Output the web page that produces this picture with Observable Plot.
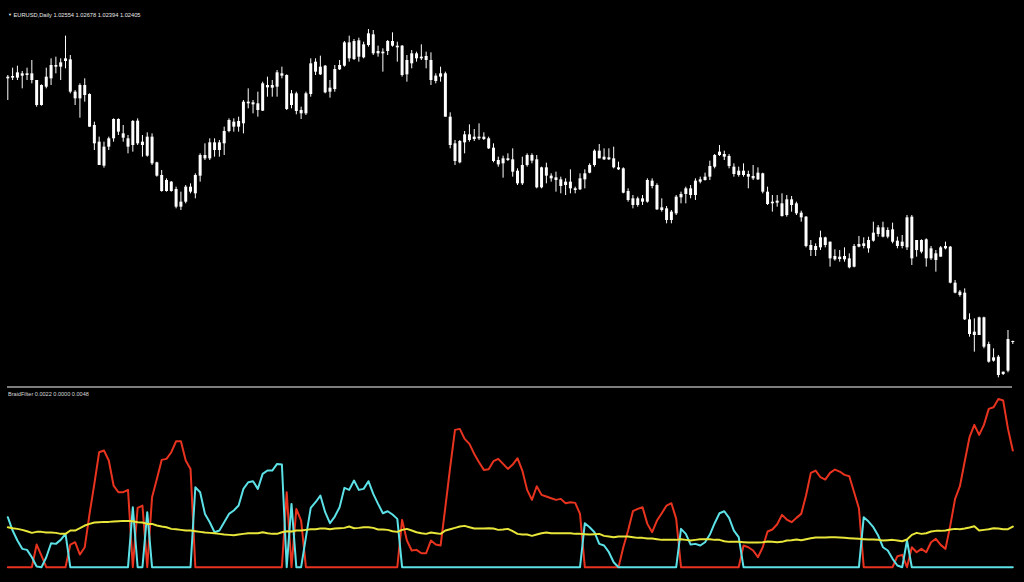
<!DOCTYPE html>
<html><head><meta charset="utf-8">
<script src="https://cdn.jsdelivr.net/npm/d3@7"></script>
<script src="https://cdn.jsdelivr.net/npm/@observablehq/plot@0.6"></script>
<style>
html,body{margin:0;padding:0;background:#000;width:1024px;height:582px;overflow:hidden;}
#wrap{position:relative;width:1024px;height:582px;background:#000;}
#price{position:absolute;left:0;top:0;}
#ind{position:absolute;left:0;top:388px;}
#sep{position:absolute;left:7px;top:386px;width:1005px;height:2px;background:#7d7d7d;}
.lbl{position:absolute;color:#e8e8e8;font-family:"Liberation Sans",Arial,sans-serif;white-space:nowrap;transform:scale(0.5);transform-origin:0 0;line-height:1;}
</style></head><body>
<div id="wrap">
  <div id="price"></div>
  <div id="sep"></div>
  <div id="ind"></div>
  <div class="lbl" style="left:8px;top:12px;font-size:11.4px"><span style="font-size:8px;position:relative;top:-1px">▼</span> EURUSD,Daily 1.02554 1.02678 1.02394 1.02405</div>
  <div class="lbl" style="left:8px;top:391px;font-size:11.1px;color:#d8d8d8">BraidFilter 0.0022 0.0000 0.0048</div>
</div>
<script>
// EURUSD daily candles, prices in pips (1 pip = 0.0001)
const open = [
11031,11033,11033,11046,11041,11046,11026,10951,11006,11031,
11071,11066,11083,11088,10991,10971,11011,10984,10891,10841,
10769,10826,10851,10909,10866,10851,10831,10904,10841,10799,
10856,10779,10741,10726,10693,10699,10646,10661,10706,10686,
10739,10801,10791,10839,10816,10836,10873,10901,10886,10896,
10961,10953,10956,10934,11011,11003,11006,11046,11041,10951,
10986,10936,10926,10984,11081,11043,11069,10991,10999,11058,
11069,11139,11089,11145,11094,11131,11163,11106,11111,11113,
11143,11129,11129,11043,11076,11106,11091,11098,11086,11023,
11036,11046,10916,10836,10779,10839,10863,10849,10856,10856,
10851,10823,10786,10776,10791,10788,10754,10716,10771,10801,
10788,10704,10764,10739,10734,10728,10711,10721,10701,10698,
10728,10748,10771,10814,10788,10794,10791,10764,10761,10693,
10671,10651,10671,10661,10724,10711,10644,10641,10606,10626,
10674,10684,10701,10681,10721,10726,10736,10766,10801,10804,
10798,10766,10741,10754,10744,10731,10728,10746,10691,10656,
10658,10656,10621,10668,10656,10628,10616,10531,10516,10524,
10554,10541,10488,10496,10488,10491,10466,10526,10536,10521,
10544,10564,10584,10556,10578,10544,10528,10524,10616,10516,
10546,10548,10491,10506,10496,10521,10526,10418,10391,10388,
10308,10261,10261,10314,10234,10184,10196,10144,10154,10243];
const high = [
11041,11063,11069,11053,11063,11086,11026,11013,11063,11091,
11096,11091,11159,11101,10996,11016,11031,10986,10901,10856,
10841,10856,10911,10911,10891,10861,10906,10911,10861,10869,
10866,10781,10756,10731,10723,10706,10691,10711,10716,10746,
10806,10836,10851,10851,10846,10886,10911,10911,10916,10966,
11001,10966,10991,11021,11036,11026,11056,11066,11043,10996,
10991,10946,10991,11091,11091,11099,11071,11026,11071,11086,
11143,11159,11149,11153,11141,11179,11176,11129,11121,11146,
11169,11141,11131,11101,11116,11111,11133,11111,11109,11046,
11066,11051,10929,10846,10846,10873,10893,10879,10896,10869,
10856,10836,10796,10799,10806,10821,10761,10796,10806,10806,
10801,10766,10778,10746,10751,10736,10731,10758,10706,10746,
10758,10776,10818,10834,10821,10821,10826,10781,10764,10701,
10681,10676,10681,10731,10731,10716,10671,10648,10636,10681,
10691,10706,10711,10731,10736,10748,10784,10804,10831,10814,
10804,10776,10766,10776,10754,10771,10764,10748,10706,10681,
10681,10686,10681,10678,10661,10634,10618,10546,10536,10574,
10556,10541,10518,10516,10524,10506,10534,10558,10554,10556,
10601,10591,10601,10584,10598,10556,10561,10621,10621,10546,
10548,10551,10528,10516,10528,10541,10528,10426,10396,10401,
10326,10311,10316,10316,10241,10221,10201,10151,10276,10244];
const low = [
10966,11026,11026,11001,11026,11016,10946,10949,11001,11011,
11046,11026,11061,10986,10951,10913,10961,10886,10816,10771,
10763,10816,10841,10861,10841,10806,10811,10831,10796,10796,
10771,10736,10691,10691,10691,10641,10636,10656,10686,10671,
10721,10786,10786,10796,10796,10801,10869,10871,10871,10866,
10941,10926,10916,10933,10976,10976,10976,11031,10936,10941,
10923,10909,10921,10976,11041,11041,10986,10973,10991,11056,
11066,11081,11086,11081,11091,11126,11101,11096,11051,11101,
11126,11081,11036,11021,11061,11081,11086,11061,11011,11016,
11021,10916,10821,10771,10776,10806,10841,10843,10846,10846,
10819,10779,10766,10733,10783,10736,10711,10711,10766,10776,
10701,10701,10716,10721,10691,10686,10681,10686,10686,10696,
10701,10746,10766,10791,10786,10786,10761,10756,10686,10661,
10641,10646,10651,10658,10701,10636,10631,10596,10596,10621,
10656,10656,10671,10666,10716,10724,10726,10761,10798,10786,
10761,10736,10736,10736,10701,10726,10726,10686,10651,10631,
10646,10616,10616,10631,10621,10601,10524,10498,10498,10516,
10524,10466,10484,10481,10481,10461,10464,10524,10521,10508,
10541,10556,10554,10551,10536,10521,10521,10516,10471,10496,
10506,10466,10486,10451,10496,10518,10416,10386,10376,10306,
10256,10211,10261,10221,10178,10181,10134,10141,10149,10234];
const close = [
11036,11038,11049,11039,11046,11026,10951,11011,11036,11071,
11066,11079,11091,10991,10971,11011,10981,10886,10836,10771,
10826,10851,10909,10871,10853,10826,10903,10836,10831,10856,
10776,10739,10693,10693,10721,10646,10661,10706,10691,10741,
10801,10791,10839,10816,10839,10873,10906,10886,10903,10961,
10956,10959,10936,11016,11004,11011,11049,11039,10939,10986,
10933,10926,10986,11076,11051,11066,10989,11003,11059,11071,
11139,11091,11143,11096,11133,11166,11106,11113,11106,11143,
11129,11124,11041,11086,11106,11091,11096,11086,11026,11039,
11046,10916,10831,10783,10843,10863,10846,10856,10851,10849,
10821,10783,10773,10791,10786,10751,10716,10771,10801,10784,
10704,10764,10739,10731,10726,10708,10721,10701,10696,10731,
10746,10771,10814,10791,10796,10788,10764,10758,10688,10666,
10651,10671,10661,10726,10708,10638,10636,10606,10631,10676,
10684,10701,10681,10724,10728,10736,10768,10801,10811,10796,
10768,10744,10754,10741,10736,10738,10748,10691,10654,10661,
10664,10618,10668,10651,10626,10614,10528,10516,10528,10554,
10531,10491,10498,10489,10498,10464,10528,10534,10528,10546,
10568,10584,10556,10576,10541,10528,10541,10614,10491,10546,
10511,10491,10521,10486,10524,10528,10418,10388,10381,10308,
10264,10271,10314,10226,10181,10194,10141,10151,10249,10240];

// BraidFilter buffers, in points (1 point = 0.00001)
const redLine = [
0,0,0,0,0,0,68,35,0,0,
0,0,0,68,75,38,60,160,250,345,
350,320,245,225,225,232,0,178,185,0,
210,265,322,325,345,378,378,320,295,0,
0,0,0,0,0,0,0,0,0,0,
0,0,0,0,0,0,0,0,225,0,
175,140,0,0,0,0,0,0,0,0,
0,0,0,0,0,0,0,0,0,0,
0,0,142,80,50,52,42,42,80,68,
65,181,300,412,415,385,370,340,315,292,
294,318,325,310,295,308,327,290,232,202,
243,217,212,207,202,205,192,195,193,160,
0,0,0,0,0,0,0,0,60,110,
168,175,180,130,105,140,162,185,192,145,
0,0,0,0,0,0,0,0,0,0,
0,0,0,65,60,50,30,60,107,113,
129,157,143,135,148,160,215,283,290,270,
263,283,293,287,277,273,225,177,0,0,
0,0,0,0,0,33,37,0,60,45,
55,45,75,85,67,55,125,205,243,317,
390,427,397,427,475,480,505,500,415,350];
const cyanLine = [
150,110,80,55,52,30,2,0,30,72,
70,82,100,0,0,0,0,0,0,0,
0,0,0,0,0,0,180,0,0,165,
0,0,0,0,0,0,0,0,0,240,
225,160,135,105,110,135,160,170,185,235,
255,258,235,280,290,290,310,308,0,190,
0,0,90,178,195,215,165,132,152,180,
238,232,260,232,235,258,220,190,162,168,
158,145,0,0,0,0,0,0,0,0,
0,0,0,0,0,0,0,0,0,0,
0,0,0,0,0,0,0,0,0,0,
0,0,0,0,0,0,0,0,0,0,
132,120,105,70,65,45,15,0,0,0,
0,0,0,0,0,0,0,0,0,0,
115,100,68,70,65,75,98,132,162,168,
148,110,90,0,0,0,0,0,0,0,
0,0,0,0,0,0,0,0,0,0,
0,0,0,0,0,0,0,0,150,137,
120,95,60,50,25,5,0,80,0,0,
0,0,0,0,0,0,0,0,0,0,
0,0,0,0,0,0,0,0,0,0];
const yellowLine = [
120,117,115,112,108,103,106,106,104,104,
103,100,100,110,110,117,125,130,134,135,
136,136,137,138,139,139,138,135,134,130,
130,125,122,120,115,114,112,110,110,108,
106,104,103,102,100,98,97,96,98,100,
102,102,102,105,102,100,100,105,108,107,
110,110,112,114,114,116,116,114,116,117,
118,122,117,118,120,120,118,113,113,112,
108,106,112,115,110,105,102,100,104,102,
100,110,114,118,122,124,120,116,116,116,
117,116,112,113,115,108,100,98,98,94,
98,102,104,102,102,102,102,102,100,100,
99,98,99,100,94,92,90,92,92,92,
90,88,88,86,86,84,82,82,82,82,
84,82,80,82,84,84,84,82,82,78,
76,76,76,75,74,74,74,75,77,76,
75,76,80,81,83,81,84,87,89,89,
89,90,90,89,88,87,86,85,84,83,
83,82,80,81,82,80,78,83,97,103,
100,102,107,109,109,110,113,115,114,116,
119,123,110,112,114,117,116,114,114,122];

const n = open.length;
const bars = d3.range(n).map(k => ({
  i: k + 1,
  o: open[k] / 1e4, h: high[k] / 1e4, l: low[k] / 1e4, c: close[k] / 1e4
}));
const ind = d3.range(n).map(k => ({
  i: k + 1, red: redLine[k] / 1e5, cyan: cyanLine[k] / 1e5, yellow: yellowLine[k] / 1e5
}));

const mL = 7.3, mR = 11.7;

const pricePlot = Plot.plot({
  width: 1024, height: 386,
  marginLeft: mL, marginRight: mR, marginTop: 0, marginBottom: 0,
  style: {background: "#000", color: "#fff"},
  x: {domain: [1, n], axis: null},
  y: {domain: [1.0108, 1.1266], axis: null},
  marks: [
    Plot.ruleX(bars, {x: "i", y1: "l", y2: "h", stroke: "#ffffff", strokeWidth: 1}),
    Plot.ruleX(bars, {x: "i", y1: "o", y2: "c", stroke: "#ffffff", strokeWidth: 3})
  ]
});
document.getElementById("price").appendChild(pricePlot);

const indPlot = Plot.plot({
  width: 1024, height: 194,
  marginLeft: mL, marginRight: mR, marginTop: 10.4, marginBottom: 15.3,
  style: {background: "#000", color: "#fff"},
  x: {domain: [1, n], axis: null},
  y: {domain: [0, 0.00505], axis: null},
  marks: [
    Plot.line(ind, {x: "i", y: "red", stroke: "#e8331f", strokeWidth: 2}),
    Plot.line(ind, {x: "i", y: "cyan", stroke: "#5ce1e6", strokeWidth: 2}),
    Plot.line(ind, {x: "i", y: "yellow", stroke: "#e9e63a", strokeWidth: 2})
  ]
});
document.getElementById("ind").appendChild(indPlot);
</script>
</body></html>
